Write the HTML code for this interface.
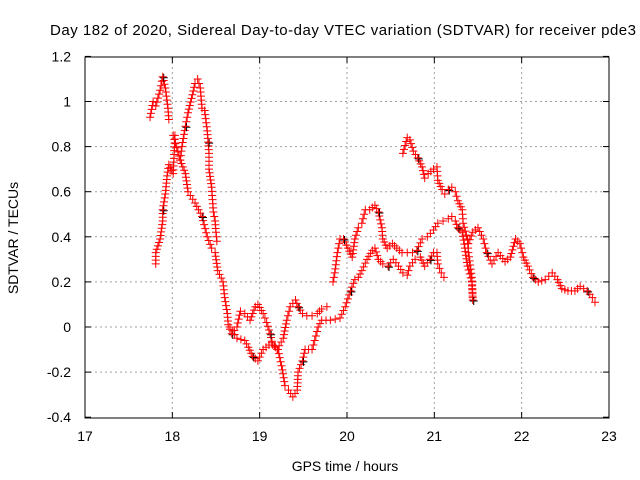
<!DOCTYPE html>
<html><head><meta charset="utf-8"><style>
html,body{margin:0;padding:0;background:#fff}
svg{display:block;font-family:"Liberation Sans",sans-serif}
</style></head><body>
<svg id="chart" width="640" height="480">
<text x="343" y="35" font-size="15" text-anchor="middle" textLength="586">Day 182 of 2020, Sidereal Day-to-day VTEC variation (SDTVAR) for receiver pde3</text>
<text transform="translate(18,238) rotate(-90)" font-size="14" text-anchor="middle">SDTVAR / TECUs</text>
<text x="345" y="471" font-size="14" text-anchor="middle">GPS time / hours</text>
<g id="grid"></g><g id="ticks"></g><g id="marks"></g>
<rect x="85" y="57" width="524" height="361" fill="none" stroke="#000" stroke-width="1"/>
</svg>
<script>
const xTicks=[17,18,19,20,21,22,23];
const yTicks=[-0.4,-0.2,0,0.2,0.4,0.6,0.8,1,1.2];
const yTickLabels=["-0.4","-0.2","0","0.2","0.4","0.6","0.8","1","1.2"];
const traceEarlyHigh=[[17.745,0.93],[17.78,1.0],[17.81,0.98],[17.86,1.05],[17.89,1.11],[17.92,1.06],[17.95,0.97],[17.96,0.92]];
const traceRise=[[17.81,0.28],[17.81,0.33],[17.86,0.39],[17.89,0.47],[17.89,0.52],[17.92,0.59],[17.94,0.67],[17.96,0.72],[18.01,0.68],[18.03,0.85],[18.01,0.85],[18.09,0.74],[18.11,0.80],[18.15,0.89],[18.18,0.95],[18.23,1.03],[18.26,1.08],[18.29,1.10],[18.32,1.06],[18.34,0.97],[18.37,0.96],[18.40,0.87],[18.41,0.82],[18.42,0.77],[18.42,0.70],[18.45,0.62],[18.47,0.51],[18.49,0.47],[18.50,0.42],[18.51,0.38]];
const traceMain=[[18.09,0.74],[18.15,0.68],[18.18,0.60],[18.26,0.55],[18.34,0.49],[18.40,0.40],[18.45,0.35],[18.49,0.33],[18.52,0.25],[18.58,0.20],[18.60,0.13],[18.63,0.06],[18.64,0.01],[18.68,-0.03],[18.74,0.0],[18.78,0.07],[18.83,0.06],[18.89,0.03],[18.95,0.09],[18.98,0.10],[19.04,0.06],[19.08,0.02],[19.12,-0.03],[19.15,-0.08],[19.21,-0.10],[19.26,-0.19],[19.29,-0.26],[19.33,-0.28],[19.38,-0.31],[19.43,-0.28],[19.44,-0.20],[19.49,-0.15],[19.52,-0.10],[19.60,-0.10],[19.63,-0.06],[19.67,0.0],[19.71,0.03],[19.81,0.03],[19.92,0.04],[19.98,0.09],[20.04,0.16],[20.09,0.21],[20.13,0.22],[20.17,0.25],[20.23,0.30],[20.29,0.34],[20.32,0.35],[20.36,0.30],[20.41,0.28],[20.47,0.27],[20.53,0.30],[20.59,0.27],[20.64,0.24],[20.69,0.23],[20.72,0.27],[20.78,0.30],[20.84,0.31],[20.89,0.27],[20.95,0.30],[20.99,0.33],[21.03,0.33],[21.04,0.28],[21.08,0.24],[21.11,0.22]];
const traceLow=[[18.66,0.0],[18.74,-0.05],[18.83,-0.06],[18.87,-0.09],[18.92,-0.13],[18.98,-0.15],[19.04,-0.10],[19.14,-0.07],[19.20,-0.10],[19.27,-0.05],[19.31,0.03],[19.35,0.09],[19.41,0.12],[19.44,0.09],[19.49,0.06],[19.54,0.05],[19.60,0.05],[19.66,0.06],[19.71,0.08],[19.77,0.09]];
const traceMid=[[19.84,0.20],[19.86,0.24],[19.89,0.33],[19.92,0.39],[19.96,0.39],[20.01,0.35],[20.06,0.31],[20.09,0.39],[20.13,0.44],[20.17,0.46],[20.21,0.52],[20.26,0.52],[20.32,0.54],[20.36,0.51],[20.40,0.44],[20.41,0.39],[20.46,0.35],[20.52,0.37],[20.57,0.35],[20.63,0.33],[20.69,0.33],[20.75,0.33],[20.80,0.34],[20.86,0.39],[20.92,0.40],[20.99,0.43],[21.04,0.46],[21.10,0.47],[21.16,0.48],[21.20,0.49],[21.24,0.47],[21.27,0.44],[21.32,0.42],[21.35,0.35],[21.38,0.27],[21.43,0.20],[21.44,0.13]];
const traceTail=[[21.39,0.37],[21.44,0.42],[21.50,0.44],[21.56,0.39],[21.60,0.33],[21.66,0.28],[21.73,0.33],[21.81,0.29],[21.87,0.31],[21.93,0.39],[21.98,0.37],[22.02,0.31],[22.07,0.27],[22.13,0.22],[22.19,0.20],[22.27,0.21],[22.35,0.24],[22.41,0.21],[22.46,0.17],[22.53,0.16],[22.61,0.16],[22.67,0.18],[22.75,0.16],[22.81,0.13],[22.84,0.11]];
const traceTop=[[20.64,0.77],[20.69,0.84],[20.72,0.83],[20.76,0.78],[20.81,0.75],[20.86,0.71],[20.89,0.66],[20.93,0.68],[20.99,0.70],[21.03,0.71],[21.04,0.65],[21.09,0.61],[21.12,0.59],[21.16,0.61],[21.20,0.62],[21.24,0.60],[21.27,0.56],[21.32,0.52],[21.33,0.46],[21.38,0.39],[21.39,0.33],[21.43,0.22],[21.44,0.12]];
const traces=[traceEarlyHigh,traceRise,traceMain,traceLow,traceMid,traceTail,traceTop];
const NS="http://www.w3.org/2000/svg";
const X=h=>85+(h-17)*87.33;
const Y=v=>327-v*225.5;
const grid=document.getElementById('grid'),ticks=document.getElementById('ticks'),marks=document.getElementById('marks');
function mk(t,a,p){const e=document.createElementNS(NS,t);for(const k in a)e.setAttribute(k,a[k]);p.appendChild(e);return e;}
xTicks.forEach(t=>{const x=X(t);
 if(t>17&&t<23){const g=mk('line',{x1:x,x2:x,y1:57,y2:418,stroke:'#a0a0a0','stroke-dasharray':'2,3'},grid);
 
 }
 mk('line',{x1:x,x2:x,y1:418,y2:412,stroke:'#000'},ticks);mk('line',{x1:x,x2:x,y1:57,y2:63,stroke:'#000'},ticks);
 const l=mk('text',{x:x,y:441,'font-size':14,'text-anchor':'middle'},ticks);l.textContent=t;
 
 });
yTicks.forEach((t,i)=>{const y=Y(t);
 if(i>0&&i<yTicks.length-1){const g=mk('line',{x1:85,x2:609,y1:y,y2:y,stroke:'#a0a0a0','stroke-dasharray':'2,3'},grid);
 
 }
 mk('line',{x1:85,x2:91,y1:y,y2:y,stroke:'#000'},ticks);mk('line',{x1:609,x2:603,y1:y,y2:y,stroke:'#000'},ticks);
 const l=mk('text',{x:71,y:y+5,'font-size':14,'text-anchor':'end'},ticks);l.textContent=yTickLabels[i];
 
 });
function plus(x,y,c,g){mk('path',{d:`M${x-4} ${y}h8M${x} ${y-4}v8`,stroke:c,'stroke-width':1,fill:'none'},g);}
traces.forEach((tr,ti)=>{
 const g=mk('g',{},marks);
 
 
 const pts=[];
 for(let i=0;i<tr.length;i++){const x=X(tr[i][0]),y=Y(tr[i][1]);
  if(i>0){const [px,py]=pts[pts.length-1];const d=Math.hypot(x-px,y-py);const n=Math.max(1,Math.round(d/4));
   for(let k=1;k<n;k++)plus(px+(x-px)*k/n,py+(y-py)*k/n,'#f00',g);}
  pts.push([x,y]);
 }
 pts.forEach((p,i)=>{if(i%9==4)plus(p[0]+1,p[1]+1,'#000',g);plus(p[0],p[1],'#f00',g);});
});
</script>
</body></html>
